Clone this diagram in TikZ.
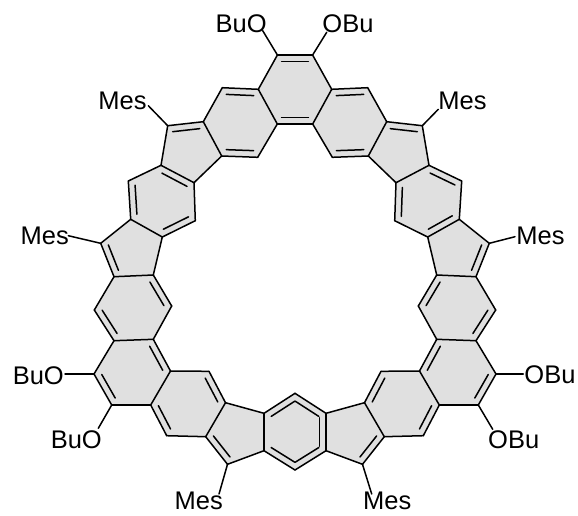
\documentclass[tikz,border=0pt]{standalone}
\usepackage{fontspec}
\setmainfont{Liberation Sans}
\usetikzlibrary{calc}
\definecolor{ringgray}{HTML}{E0E0E0}

\begin{document}
\begin{tikzpicture}[x=1pt,y=-1pt,line cap=round,
    bond/.style={black,line width=1.5pt},
    label/.style={anchor=base,font=\fontsize{25.5}{25.5}\selectfont}]
      \tikzstyle{every node}+=[inner sep=0pt]
      \useasboundingbox (0,0) rectangle (578,515);
      \foreach \n/\x/\y in {t1/277.4/55,t2/258.3/89.3,t3/277.3/124,
          a1/222.3/87.7,a2/203.3/121.7,a3/221.7/156,a4/257.7/157.3,
          b1/194/182.7,b2/161/165.3,b3/167.7/125.7,
          c1/128.3/181,c2/130.7/219.3,c3/162.3/237,c4/195.3/220.7,
          d1/153.3/275,d2/114/276.7,d3/100.7/243.3,
          e1/94.3/310,e2/114/340.7,e3/153.3/339.3,e4/171.7/306,
          f1/170.5/371,f2/150.7/405,f3/111.7/405,f4/94/374,
          g1/166.7/435.7,g2/205.7/436.7,g3/225.5/402.7,g4/209/371.3,
          h1/264/413.3,h2/264/450.7,h3/227.5/464.3,
          m1/295/393.3,m2/295/470} {
        \coordinate (l\n) at (\x,\y);
        \coordinate (r\n) at ({590-\x},\y);
      }
      \fill [ringgray,even odd rule]
        (lt1) -- (lt2) -- (la1) -- (la2) -- (lb3) -- (lb2) -- (lc1) -- (lc2) -- (ld3) -- (ld2) -- (le1) -- (le2) -- (lf4) -- (lf3) -- (lf2) -- (lg1) -- (lg2) -- (lh3) -- (lh2) -- (lm2)
        -- (rh2) -- (rh3) -- (rg2) -- (rg1) -- (rf2) -- (rf3) -- (rf4) -- (re2) -- (re1) -- (rd2) -- (rd3) -- (rc2) -- (rc1) -- (rb2) -- (rb3) -- (ra2) -- (ra1) -- (rt2) -- (rt1) -- cycle
        (lt3) -- (la4) -- (la3) -- (lb1) -- (lc4) -- (lc3) -- (ld1) -- (le4) -- (le3) -- (lf1) -- (lg4) -- (lg3) -- (lh1) -- (lm1)
        -- (rh1) -- (rg3) -- (rg4) -- (rf1) -- (re3) -- (re4) -- (rd1) -- (rc3) -- (rc4) -- (rb1) -- (ra3) -- (ra4) -- (rt3) -- cycle;
      \foreach \p/\q in {t1/t2,t2/t3,t2/a1,a1/a2,a2/a3,a3/a4,a4/t3,a2/b3,b3/b2,b2/b1,b1/a3,
          b2/c1,c1/c2,c2/c3,c3/c4,c4/b1,c2/d3,d3/d2,d2/d1,d1/c3,d2/e1,e1/e2,e2/e3,e3/e4,e4/d1,
          e2/f4,f4/f3,f3/f2,f2/f1,f1/e3,f2/g1,g1/g2,g2/g3,g3/g4,g4/f1,g2/h3,h3/h2,h2/h1,h1/g3,
          h1/m1,h2/m2} {
        \draw [bond] (l\p) -- (l\q);
        \draw [bond] (r\p) -- (r\q);
      }
      \draw [bond] (lt1) -- (rt1);
      \draw [bond] (lt3) -- (rt3);
      \foreach \p/\q in {rt1/lt1,lt3/rt3,lt2/la1,la3/la4,la2/lb3,lb1/lb2,lc1/lc2,lc3/lc4,ld3/ld2,
          le4/ld1,le1/le2,lf1/le3,lf4/lf3,lf2/lg1,lg3/lg4,lg2/lh3,lm1/lh1,lh2/lm2,
          ra1/rt2,ra4/ra3,rb3/ra2,rb1/rc4,rc1/rb2,rc3/rc2,rd2/rd3,rd1/re4,re2/re1,re3/rf1,
          rf3/rf4,rg1/rf2,rg4/rg3,rh3/rg2,rh1/rm1,rm2/rh2,rh2/rh1} {
        \draw [bond] ($(\p)!0.12!(\q)!6.5pt!90:(\q)$) -- ($(\q)!0.12!(\p)!6.5pt!-90:(\p)$);
      }
      \node [label] (butl) at (241.2,32.3) {BuO};
      \node [label] (butr) at (348,32.3) {OBu};
      \node [label] (mestl) at (122.5,109) {Mes};
      \node [label] (mestr) at (462.5,109) {Mes};
      \node [label] (mesml) at (44.8,244) {Mes};
      \node [label] (mesmr) at (540.5,244) {Mes};
      \node [label] (bull) at (38.3,384) {BuO};
      \node [label] (burl) at (550,383.5) {OBu};
      \node [label] (bulb) at (76.3,448.3) {BuO};
      \node [label] (burb) at (513.7,448.3) {OBu};
      \node [label] (mesbl) at (198.8,509.5) {Mes};
      \node [label] (mesbr) at (387.2,509.5) {Mes};
      \coordinate (etl) at (262.7,30.7);
      \coordinate (etr) at (326.7,32.3);
      \coordinate (emtl) at (148.3,105.7);
      \coordinate (emtr) at (438.3,109.3);
      \coordinate (emml) at (68.3,235.7);
      \coordinate (emmr) at (515,236.7);
      \coordinate (eol) at (65,374);
      \coordinate (eor) at (523.3,374);
      \coordinate (eobl) at (98.3,428.3);
      \coordinate (eobr) at (492.7,429.3);
      \coordinate (embl) at (219,494);
      \coordinate (embr) at (371.7,494);
      \draw [bond] (lt1) -- (etl);
      \draw [bond] (rt1) -- (etr);
      \draw [bond] (lb3) -- (emtl);
      \draw [bond] (rb3) -- (emtr);
      \draw [bond] (ld3) -- (emml);
      \draw [bond] (rd3) -- (emmr);
      \draw [bond] (lf4) -- (eol);
      \draw [bond] (rf4) -- (eor);
      \draw [bond] (lf3) -- (eobl);
      \draw [bond] (rf3) -- (eobr);
      \draw [bond] (lh3) -- (embl);
      \draw [bond] (rh3) -- (embr);
    \end{tikzpicture}
\end{document}
